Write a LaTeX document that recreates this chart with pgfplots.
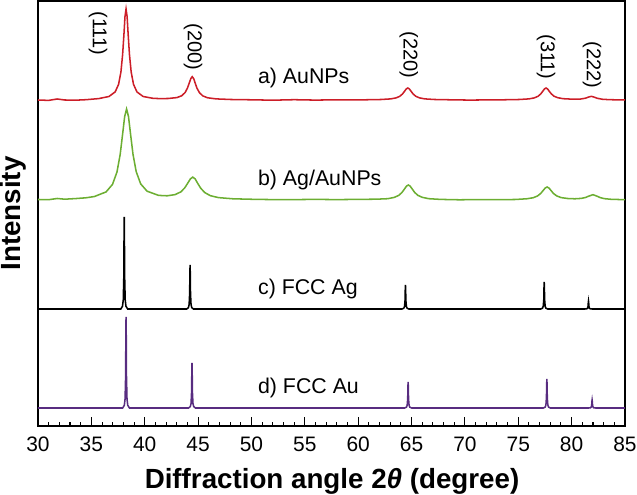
\documentclass[border=0pt]{standalone}
\usepackage{fontspec}
\setmainfont{Liberation Sans}
\usepackage{pgfplots}
\pgfplotsset{compat=1.18}
\definecolor{aured}{RGB}{204,30,40}
\definecolor{aggreen}{RGB}{108,174,50}
\definecolor{aupurple}{RGB}{88,44,128}
\begin{document}
\begin{tikzpicture}
\useasboundingbox (-28.5pt,-51.75pt) rectangle (449.25pt,319.5pt);
\begin{axis}[
  at={(0,0)}, anchor=south west,
  scale only axis, width=440.25pt, height=318.75pt,
  xmin=30, xmax=85, ymin=0, ymax=425,
  xtick={30,35,...,85}, minor x tick num=4,
  ytick=\empty, xtick pos=bottom, tick align=inside,
  major tick length=7pt, minor tick length=3.3pt,
  every tick/.style={black, line width=0.8pt},
  axis line style={line width=1pt},
  /pgf/number format/assume math mode=true,
  xticklabel style={font=\fontsize{15.7}{18}\selectfont, yshift=-5pt},
  xlabel={\textbf{Diffraction angle 2\textit{θ} (degree)}},
  ylabel={\textbf{Intensity}},
  xlabel style={font=\fontsize{20.8}{25}\selectfont, at={(axis description cs:0.5009,-0.13)}, anchor=center},
  ylabel style={font=\fontsize{20.8}{25}\selectfont, at={(axis description cs:-0.0426,0.5)}, anchor=center},
  clip=false,
]
% a) AuNPs
\addplot[color=aured, line width=1.15pt] coordinates {
(30,326) (31,325.6) (31.8,327) (32.5,326) (33.5,325.8) (34.5,326.3) (35.69,327.4) (36.65,329.5) (37.23,334.1) (37.55,341.6) (37.77,354) (37.93,371.5) (38.06,392.9) (38.15,409.4) (38.25,417) (38.35,409.4) (38.44,392.9) (38.57,371.5) (38.73,354) (38.95,341.6) (39.27,334.1) (39.85,329.5) (40.81,327.6) (41.5,327.4) (42.2,327.5) (43.01,328.4) (43.46,330.2) (43.78,333.4) (44.0,337.8) (44.18,343.2) (44.32,347.4) (44.45,349.3) (44.59,347.3) (44.72,343.1) (44.9,337.7) (45.13,333.3) (45.44,330.1) (45.89,328.2) (46.7,327.1) (48.05,326.5) (50,326.2) (52,325.8) (54,326.3) (56,325.9) (58,326.2) (60.65,326.2) (62.15,326.5) (63.05,327.1) (63.55,328.1) (63.9,329.7) (64.15,332) (64.35,334.8) (64.5,337) (64.65,338) (64.8,337) (64.95,334.8) (65.15,332) (65.4,329.7) (65.75,328.1) (66.25,327.1) (67.15,326.5) (68.65,326.2) (70.5,325.9) (72,326.1) (73.6,326.2) (75.1,326.5) (76.0,327.1) (76.5,328.1) (76.85,329.7) (77.1,332) (77.3,334.8) (77.45,337) (77.6,338) (77.75,337) (77.9,334.8) (78.1,332.1) (78.35,329.8) (78.7,328.3) (79.2,327.3) (80.1,326.8) (80.8,326.9) (81.3,327.8) (81.6,329) (81.85,329.65) (82.1,328.9) (82.4,327.7) (82.9,326.7) (83.6,326.3) (85,326)
};
% b) Ag/AuNPs
\addplot[color=aggreen, line width=1.15pt] coordinates {
(30,226.5) (31,226.3) (31.8,227.5) (32.5,226.8) (33.5,227.4) (34.5,228.2) (35.3,229.5) (36.38,234.1) (36.98,241.6) (37.4,254) (37.7,271.5) (37.94,292.9) (38.12,309.4) (38.3,317) (38.48,309.4) (38.66,293) (38.9,271.8) (39.2,254.4) (39.62,242.1) (40.22,234.8) (41.3,230.6) (42.1,230.2) (42.85,231.4) (43.38,234.1) (43.75,238.1) (44.05,243.2) (44.28,247.1) (44.5,248.9) (44.73,247) (44.95,242.9) (45.25,237.7) (45.63,233.4) (46.15,230.3) (46.9,228.4) (48.25,227.2) (50.5,226.6) (53,226.3) (56,226.6) (58,226.4) (59.9,226.6) (61.7,226.8) (62.78,227.3) (63.38,228.6) (63.8,230.6) (64.1,233.5) (64.34,237) (64.52,239.8) (64.7,241) (64.88,239.8) (65.06,237) (65.3,233.5) (65.6,230.6) (66.02,228.6) (66.62,227.3) (67.7,226.6) (69.5,226.2) (71,226.4) (72.9,226.3) (74.7,226.5) (75.78,227.2) (76.38,228.2) (76.8,230) (77.1,232.5) (77.34,235.6) (77.52,237.9) (77.7,239) (77.88,237.9) (78.06,235.6) (78.3,232.5) (78.6,230.1) (79.02,228.4) (79.62,227.5) (80.3,227.2) (80.9,227.6) (81.3,228.5) (81.64,230) (82.0,231.3) (82.36,229.9) (82.7,228.3) (83.1,227.3) (83.7,226.7) (85,226.3)
};
% c) FCC Ag
\addplot[color=black, line width=1.15pt] coordinates {
(30,117) (37.76,117) (37.92,119.8) (37.99,126.2) (38.04,149.2) (38.065,195.2) (38.08,209) (38.095,195.2) (38.12,149.2) (38.17,126.2) (38.24,119.8) (38.40,117)
(43.93,117) (44.09,118.3) (44.16,121.4) (44.21,132.4) (44.235,154.4) (44.25,161) (44.265,154.4) (44.29,132.4) (44.34,121.4) (44.41,118.3) (44.57,117)
(64.11,117) (64.27,117.7) (64.34,119.4) (64.39,125.4) (64.415,137.4) (64.43,141) (64.445,137.4) (64.47,125.4) (64.52,119.4) (64.59,117.7) (64.75,117)
(77.11,117) (77.27,117.8) (77.34,119.7) (77.39,126.5) (77.415,140) (77.43,144) (77.445,140) (77.47,126.5) (77.52,119.7) (77.59,117.8) (77.75,117)
(81.26,117) (81.42,117.2) (81.49,117.8) (81.54,119.8) (81.565,123.8) (81.58,125) (81.595,123.8) (81.62,119.8) (81.67,117.8) (81.74,117.2) (81.90,117) (85,117)
};
% d) FCC Au
\addplot[color=aupurple, line width=1.15pt] coordinates {
(30,18) (37.93,18) (38.09,20.7) (38.16,27.1) (38.21,49.9) (38.235,95.4) (38.25,109) (38.265,95.4) (38.29,49.9) (38.34,27.1) (38.41,20.7) (38.57,18)
(44.11,18) (44.27,19.4) (44.34,22.5) (44.39,33.8) (44.415,56.3) (44.43,63) (44.445,56.3) (44.47,33.8) (44.52,22.5) (44.59,19.4) (44.75,18)
(64.36,18) (64.52,18.8) (64.59,20.6) (64.64,27.1) (64.665,40.1) (64.68,44) (64.695,40.1) (64.72,27.1) (64.77,20.6) (64.84,18.8) (65.00,18)
(77.36,18) (77.52,18.9) (77.59,20.9) (77.64,28.2) (77.665,42.7) (77.68,47) (77.695,42.7) (77.72,28.2) (77.77,20.9) (77.84,18.9) (78.00,18)
(81.60,18) (81.76,18.2) (81.83,18.8) (81.88,20.8) (81.905,24.8) (81.92,26) (81.935,24.8) (81.96,20.8) (82.01,18.8) (82.08,18.2) (82.24,18) (85,18)
};
\begin{scope}[every node/.style={font=\fontsize{16}{19}\selectfont, anchor=west, inner sep=0pt}]
\node at (axis cs:50.6,348) {a) AuNPs};
\node at (axis cs:50.6,246) {b) Ag/AuNPs};
\node at (axis cs:50.6,137) {c) FCC Ag};
\node at (axis cs:50.6,38) {d) FCC Au};
\end{scope}
\begin{scope}[every node/.style={font=\fontsize{15}{18}\selectfont, rotate=-90, anchor=center, inner sep=0pt}]
\node at (axis cs:35.62,392.5) {(111)};
\node at (axis cs:44.53,379) {(200)};
\node at (axis cs:64.74,371) {(220)};
\node at (axis cs:77.61,369) {(311)};
\node at (axis cs:81.92,361) {(222)};
\end{scope}
\end{axis}
\end{tikzpicture}
\end{document}
